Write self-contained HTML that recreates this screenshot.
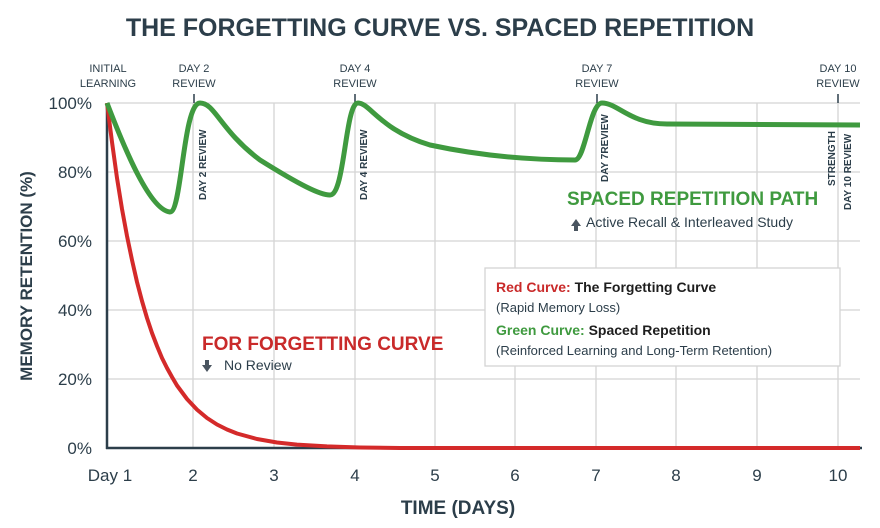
<!DOCTYPE html>
<html><head><meta charset="utf-8"><style>
body{margin:0;background:#fff;width:880px;height:528px;overflow:hidden}
svg{display:block;font-family:"Liberation Sans",sans-serif}
</style></head><body>
<svg width="880" height="528" viewBox="0 0 880 528">
<rect width="880" height="528" fill="#fff"/>
<text x="440" y="36" text-anchor="middle" font-size="25" font-weight="bold" fill="#2c3e4a">THE FORGETTING CURVE VS. SPACED REPETITION</text>
<g stroke="#d4d4d4" stroke-width="1.3">
<line x1="107" y1="103" x2="860" y2="103"/><line x1="107" y1="172" x2="860" y2="172"/>
<line x1="107" y1="241" x2="860" y2="241"/><line x1="107" y1="310" x2="860" y2="310"/>
<line x1="107" y1="379" x2="860" y2="379"/>
<line x1="193" y1="103" x2="193" y2="448"/><line x1="274" y1="103" x2="274" y2="448"/>
<line x1="355" y1="103" x2="355" y2="448"/><line x1="435" y1="103" x2="435" y2="448"/>
<line x1="515" y1="103" x2="515" y2="448"/><line x1="596" y1="103" x2="596" y2="448"/>
<line x1="676" y1="103" x2="676" y2="448"/><line x1="757" y1="103" x2="757" y2="448"/>
<line x1="838" y1="103" x2="838" y2="448"/>
</g>
<g stroke="#2c3e4a" stroke-width="1.5"><line x1="194" y1="94" x2="194" y2="103"/><line x1="355" y1="94" x2="355" y2="103"/><line x1="597" y1="94" x2="597" y2="103"/><line x1="838" y1="94" x2="838" y2="103"/></g>
<line x1="107" y1="103" x2="107" y2="449" stroke="#2c3e4a" stroke-width="2.5"/>
<line x1="106" y1="448" x2="862" y2="448" stroke="#2c3e4a" stroke-width="2.5"/>
<g font-size="17" fill="#2c3e4a" text-anchor="end">
<text x="92" y="109">100%</text><text x="92" y="178">80%</text><text x="92" y="247">60%</text>
<text x="92" y="316">40%</text><text x="92" y="385">20%</text><text x="92" y="454">0%</text></g>
<g font-size="17" fill="#2c3e4a" text-anchor="middle">
<text x="110" y="481">Day 1</text><text x="193" y="481">2</text><text x="274" y="481">3</text><text x="355" y="481">4</text>
<text x="435" y="481">5</text><text x="515" y="481">6</text><text x="596" y="481">7</text><text x="676" y="481">8</text>
<text x="757" y="481">9</text><text x="838" y="481">10</text></g>
<text x="458" y="514" text-anchor="middle" font-size="19" font-weight="bold" fill="#2c3e4a">TIME (DAYS)</text>
<text transform="translate(32,276) rotate(-90)" text-anchor="middle" font-size="17" font-weight="bold" fill="#2c3e4a">MEMORY RETENTION (%)</text>
<g font-size="11" fill="#2c3e4a" text-anchor="middle">
<text x="108" y="72">INITIAL</text><text x="108" y="87">LEARNING</text>
<text x="194" y="72">DAY 2</text><text x="194" y="87">REVIEW</text>
<text x="355" y="72">DAY 4</text><text x="355" y="87">REVIEW</text>
<text x="597" y="72">DAY 7</text><text x="597" y="87">REVIEW</text>
<text x="838" y="72">DAY 10</text><text x="838" y="87">REVIEW</text></g>
<g font-size="10" fill="#2c3e4a" font-weight="bold">
<text transform="translate(206,200) rotate(-90)">DAY 2 REVIEW</text>
<text transform="translate(367,200) rotate(-90)">DAY 4 REVIEW</text>
<text transform="translate(608,182) rotate(-90)">DAY 7REVIEW</text>
<text transform="translate(835,186) rotate(-90)">STRENGTH</text>
<text transform="translate(851,210) rotate(-90)">DAY 10 REVIEW</text></g>
<polyline fill="none" stroke="#d42a2a" stroke-width="4" stroke-linejoin="round" points="107,103 112,142 117,178 122,209 127,236 132,260 137,282 142,301 147,318 152,333 157,346 162,358 167,368 172,377 177,385.5 187,399 197,409.6 207,418 217,424.5 227,429.5 237,433.5 257,439 277,442.5 297,444.6 327,446.4 360,447.5 400,448 860,448"/>
<path d="M107,103 C125,150 150,210 170,212 C182,212 183,103 200,103 C215,103 220,130 260,160 C300,185 320,195 330,195 C345,195 345,103 358,103 C370,103 380,130 430,145 C500,160 560,160 575,160 C585,160 590,103 602,103 C618,103 630,124 667,124 L860,125" fill="none" stroke="#3f9a3f" stroke-width="5" stroke-linejoin="round"/>
<text x="567" y="205" font-size="19" font-weight="bold" fill="#3f9a3f">SPACED REPETITION PATH</text>
<path d="M571,226 l5,-7 l5,7 h-3 v5 h-4 v-5z" fill="#4a5560"/>
<text x="586" y="227" font-size="14" fill="#2c3e4a">Active Recall &amp; Interleaved Study</text>
<text x="202" y="350" font-size="19" font-weight="bold" fill="#c92a2a">FOR FORGETTING CURVE</text>
<path d="M205,360 h4 v5 h3 l-5,7 l-5,-7 h3z" fill="#4a5560"/>
<text x="224" y="370" font-size="14" fill="#2c3e4a">No Review</text>
<rect x="485" y="268" width="355" height="98" fill="#fff" stroke="#d4d4d4" stroke-width="1.3"/>
<g font-size="14">
<text x="496" y="292" font-weight="bold"><tspan fill="#c92a2a">Red Curve:</tspan><tspan fill="#1e1e1e"> The Forgetting Curve</tspan></text>
<text x="496" y="312" fill="#2c3e4a" font-size="13">(Rapid Memory Loss)</text>
<text x="496" y="335" font-weight="bold"><tspan fill="#3f9a3f">Green Curve:</tspan><tspan fill="#1e1e1e"> Spaced Repetition</tspan></text>
<text x="496" y="355" fill="#2c3e4a" font-size="13">(Reinforced Learning and Long-Term Retention)</text></g>
</svg>
</body></html>
